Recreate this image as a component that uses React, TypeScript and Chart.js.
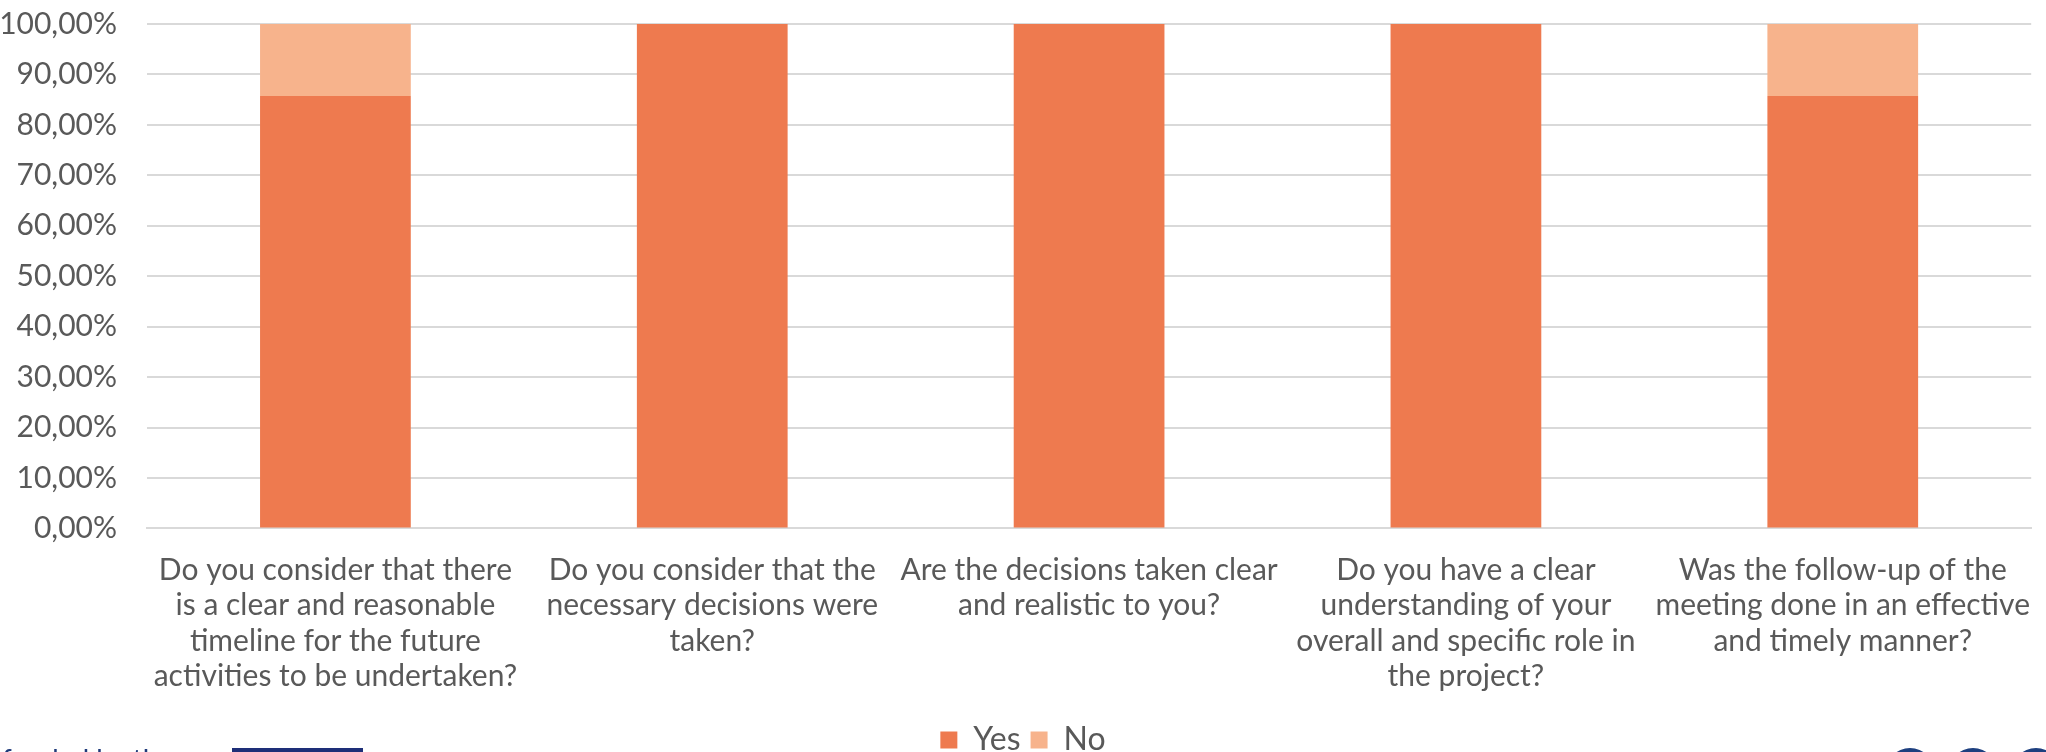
import React, { useEffect, useRef } from "react";
import { Chart, registerables } from "chart.js";

Chart.register(...registerables);

const categories: string[][] = [
  ["Do you consider that there", "is a clear and reasonable", "timeline for the future", "activities to be undertaken?"],
  ["Do you consider that the", "necessary decisions were", "taken?"],
  ["Are the decisions taken clear", "and realistic to you?"],
  ["Do you have a clear", "understanding of your", "overall and specific role in", "the project?"],
  ["Was the follow-up of the", "meeting done in an effective", "and timely manner?"],
];

const yesValues: number[] = [85.71, 100, 100, 100, 85.71];
const noValues: number[] = [14.29, 0, 0, 0, 14.29];

const seriesNames: string[] = ["Yes", "No"];
const seriesColors: string[] = ["#EE7A4F", "#F7B38C"];

const FONT = "Lato, 'Open Sans', sans-serif";
const TEXT = "#595959";

export default function App() {
  const ref = useRef<HTMLCanvasElement | null>(null);

  useEffect(() => {
    if (!ref.current) return;
    const chart = new Chart(ref.current, {
      type: "bar",
      data: {
        labels: categories,
        datasets: [
          {
            label: seriesNames[0],
            data: yesValues,
            backgroundColor: seriesColors[0],
            categoryPercentage: 1,
            barPercentage: 0.4,
          },
          {
            label: seriesNames[1],
            data: noValues,
            backgroundColor: seriesColors[1],
            categoryPercentage: 1,
            barPercentage: 0.4,
          },
        ],
      },
      options: {
        animation: false,
        responsive: false,
        devicePixelRatio: 1,
        layout: { padding: { top: 0, right: 0, left: 0, bottom: 0 } },
        plugins: {
          tooltip: { enabled: false },
          legend: {
            position: "bottom",
            labels: {
              boxWidth: 17,
              boxHeight: 17,
              color: TEXT,
              font: { family: FONT, size: 32 },
              padding: 10,
            },
          },
        },
        scales: {
          x: {
            stacked: true,
            grid: { display: false },
            border: { color: "#d9d9d9", width: 2 },
            afterFit: (scale: any) => {
              scale.height += 4;
            },
            ticks: {
              color: TEXT,
              font: { family: FONT, size: 30, lineHeight: 1.18 },
              maxRotation: 0,
              minRotation: 0,
              autoSkip: false,
              padding: 16,
            },
          },
          y: {
            stacked: true,
            min: 0,
            max: 100,
            afterFit: (scale: any) => {
              scale.width = 147;
            },
            grid: { color: "#d9d9d9", lineWidth: 2, drawTicks: false },
            border: { display: false },
            ticks: {
              stepSize: 10,
              color: TEXT,
              padding: 30,
              font: { family: FONT, size: 30 },
              callback: (v: any) => Number(v).toFixed(2).replace(".", ",") + "%",
            },
          },
        },
      },
    });
    return () => chart.destroy();
  }, []);

  return (
    <div
      style={{
        position: "fixed",
        left: 0,
        top: 0,
        width: 2046,
        height: 752,
        overflow: "hidden",
        background: "#fff",
      }}
    >
      <canvas
        ref={ref}
        width={2046}
        height={790}
        style={{ position: "absolute", left: 0, top: -24, width: 2046, height: 790, display: "block" }}
      />
      <div
        style={{
          position: "absolute",
          left: 2,
          top: 742,
          fontFamily: FONT,
          fontSize: 28,
          color: "#1f3a7a",
          whiteSpace: "nowrap",
        }}
      >
        funded by the
      </div>
      <div style={{ position: "absolute", left: 232, top: 748, width: 131, height: 20, background: "#1e2f78" }} />
      {[1885, 1948, 2011].map((x) => (
        <div
          key={x}
          style={{
            position: "absolute",
            left: x,
            top: 748,
            width: 50,
            height: 50,
            borderRadius: "50%",
            background: "#1d3f7f",
          }}
        />
      ))}
    </div>
  );
}
